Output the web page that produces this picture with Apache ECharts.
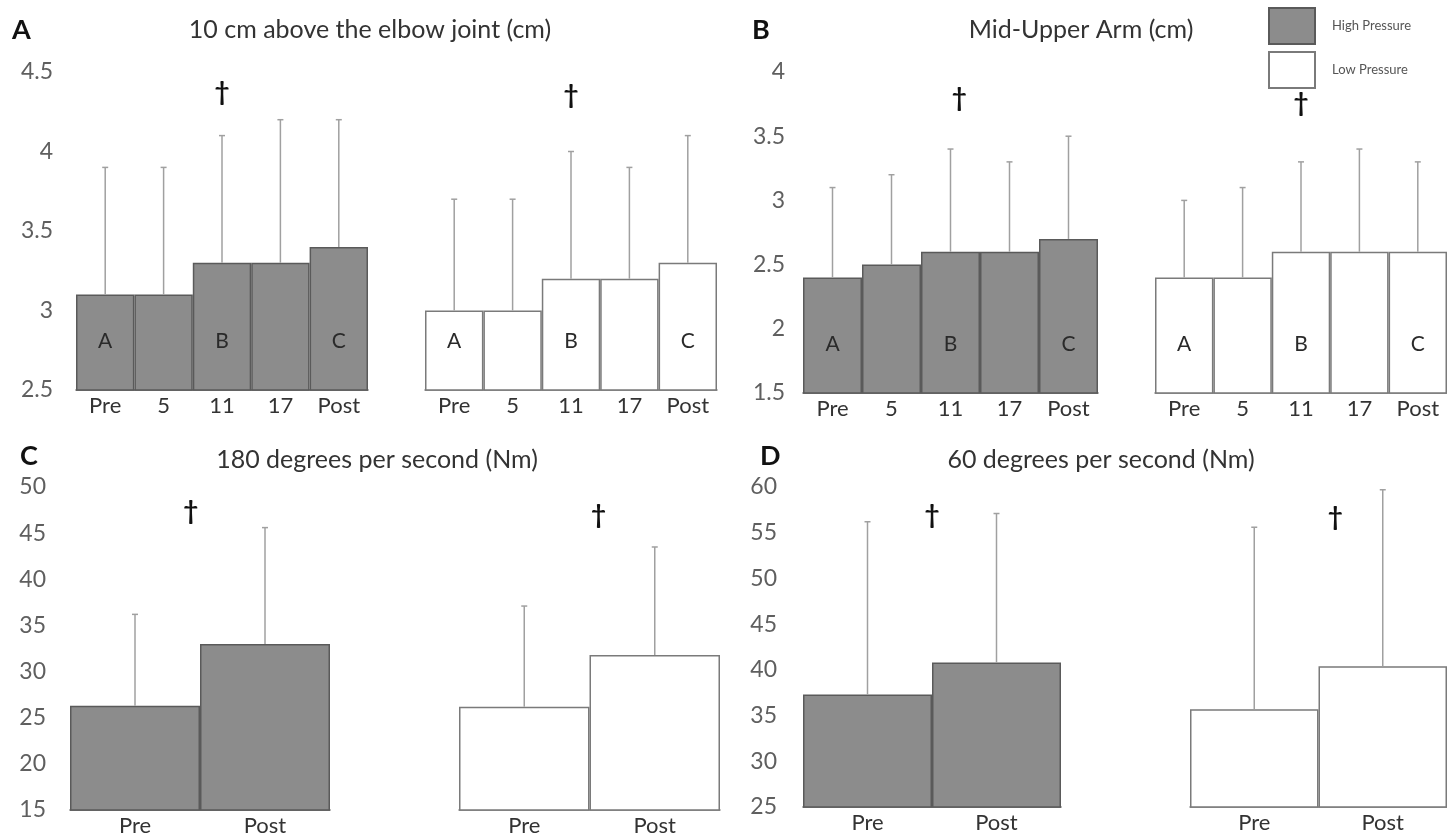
<!DOCTYPE html>
<html><head><meta charset="utf-8">
<script src="https://cdn.jsdelivr.net/npm/echarts@6/dist/echarts.min.js"></script>
<style>html,body{margin:0;padding:0;background:#fff}#c{width:1447px;height:839px}</style>
</head><body><div id="c"></div>
<script>
// ---------- data ----------
const timeCats = ['Pre', '5', '11', '17', 'Post'];
const prePostCats = ['Pre', 'Post'];
const letterLabels = ['A', '', 'B', '', 'C'];

const elbowHighMean = [3.1, 3.1, 3.3, 3.3, 3.4];
const elbowHighSD   = [0.8, 0.8, 0.8, 0.9, 0.8];
const elbowLowMean  = [3.0, 3.0, 3.2, 3.2, 3.3];
const elbowLowSD    = [0.7, 0.7, 0.8, 0.7, 0.8];

const armHighMean = [2.4, 2.5, 2.6, 2.6, 2.7];
const armHighSD   = [0.7, 0.7, 0.8, 0.7, 0.8];
const armLowMean  = [2.4, 2.4, 2.6, 2.6, 2.6];
const armLowSD    = [0.6, 0.7, 0.7, 0.8, 0.7];

const deg180HighMean = [26.3, 33.0];
const deg180HighSD   = [9.9, 12.6];
const deg180LowMean  = [26.2, 31.8];
const deg180LowSD    = [10.9, 11.7];

const deg60HighMean = [37.3, 40.8];
const deg60HighSD   = [18.9, 16.3];
const deg60LowMean  = [35.7, 40.4];
const deg60LowSD    = [19.9, 19.3];

// dagger annotations: [category index, value, fraction of band offset]
const daggerElbowHigh = [2, 4.37, 0];
const daggerElbowLow  = [2, 4.35, 0];
const daggerArmHigh   = [2, 3.79, 0.15];
const daggerArmLow    = [2, 3.75, 0];
const dagger180High   = [0, 47.3, 0.43];
const dagger180Low    = [0, 46.9, 0.57];
const dagger60High    = [0, 56.9, 0.5];
const dagger60Low     = [0, 56.6, 0.63];

const axisMin  = [2.5, 1.5, 15, 25];
const axisMax  = [4.5, 4.0, 50, 60];
const axisStep = [0.5, 0.5, 5, 5];

// ---------- layout ----------
const FONT = 'Lato, "Open Sans", sans-serif';
const GREY = '#8c8c8c', GREY_BORDER = '#5a5a5a', WHITE_BORDER = '#7a7a7a', ERR = '#a0a0a0';

const panels = [
  {grid:{left:76,  top:72,  width:292, height:318}, cats:timeCats, mean:elbowHighMean, sd:elbowHighSD, high:true,  scale:0, showY:true,  letters:true, dagger:daggerElbowHigh, yMargin:23},
  {grid:{left:425, top:72,  width:292, height:318}, cats:timeCats, mean:elbowLowMean,  sd:elbowLowSD,  high:false, scale:0, showY:false, letters:true, dagger:daggerElbowLow},
  {grid:{left:803, top:72,  width:295, height:321}, cats:timeCats, mean:armHighMean,   sd:armHighSD,   high:true,  scale:1, showY:true,  letters:true, dagger:daggerArmHigh, yMargin:18},
  {grid:{left:1155,top:72,  width:295, height:321}, cats:timeCats, mean:armLowMean,    sd:armLowSD,    high:false, scale:1, showY:false, letters:true, dagger:daggerArmLow},
  {grid:{left:70,  top:487, width:260, height:323}, cats:prePostCats, mean:deg180HighMean, sd:deg180HighSD, high:true,  scale:2, showY:true,  letters:false, dagger:dagger180High, yMargin:24},
  {grid:{left:459, top:487, width:261, height:323}, cats:prePostCats, mean:deg180LowMean,  sd:deg180LowSD,  high:false, scale:2, showY:false, letters:false, dagger:dagger180Low},
  {grid:{left:803, top:487, width:258, height:320}, cats:prePostCats, mean:deg60HighMean,  sd:deg60HighSD,  high:true,  scale:3, showY:true,  letters:false, dagger:dagger60High, yMargin:26},
  {grid:{left:1190,top:487, width:260, height:320}, cats:prePostCats, mean:deg60LowMean,   sd:deg60LowSD,   high:false, scale:3, showY:false, letters:false, dagger:dagger60Low}
];

const grids = [], xAxes = [], yAxes = [], series = [];
panels.forEach((p, i) => {
  grids.push(Object.assign({containLabel:false}, p.grid));
  xAxes.push({
    type:'category', gridIndex:i, data:p.cats,
    axisTick:{show:false},
    axisLine:{show:true, lineStyle:{color: p.high ? GREY_BORDER : WHITE_BORDER, width:1.5}},
    axisLabel:{fontFamily:FONT, fontSize:22, color:'#333', margin:5, interval:0}
  });
  yAxes.push({
    type:'value', gridIndex:i,
    min:axisMin[p.scale], max:axisMax[p.scale], interval:axisStep[p.scale],
    splitLine:{show:false}, axisTick:{show:false}, axisLine:{show:false},
    axisLabel:{show:p.showY, fontFamily:FONT, fontSize:23, color:'#5f5f5f', margin:p.yMargin || 20}
  });
  series.push({
    type:'bar', name: p.high ? 'High Pressure' : 'Low Pressure',
    xAxisIndex:i, yAxisIndex:i, data:p.mean,
    barCategoryGap:'0%',
    itemStyle:{color: p.high ? GREY : '#ffffff', borderColor: p.high ? GREY_BORDER : WHITE_BORDER, borderWidth:1.5},
    label: p.letters ? {
      show:true, position:'insideBottom', distance:39,
      formatter:(d) => letterLabels[d.dataIndex],
      fontFamily:FONT, fontSize:21, color:'#2a2a2a'
    } : {show:false},
    emphasis:{disabled:true}, animation:false, z:2
  });
  series.push({
    type:'custom', xAxisIndex:i, yAxisIndex:i,
    data:p.mean.map((m, k) => [k, m, m + p.sd[k]]),
    renderItem:(params, api) => {
      const b = api.coord([api.value(0), api.value(1)]);
      const t = api.coord([api.value(0), api.value(2)]);
      const st = {stroke:ERR, lineWidth:1.5};
      return {type:'group', children:[
        {type:'line', shape:{x1:b[0], y1:b[1], x2:t[0], y2:t[1]}, style:st},
        {type:'line', shape:{x1:t[0]-3, y1:t[1], x2:t[0]+3, y2:t[1]}, style:st}
      ]};
    },
    animation:false, silent:true, z:3
  });
  series.push({
    type:'custom', xAxisIndex:i, yAxisIndex:i,
    data:[p.dagger],
    renderItem:(params, api) => {
      const c = api.coord([api.value(0), api.value(1)]);
      const band = api.size([1, 0])[0];
      return {type:'text', x:c[0] + band * api.value(2), y:c[1],
        style:{text:'†', fontFamily:FONT, fontSize:26, fontWeight:'bold', fill:'#111', align:'center', verticalAlign:'middle'}};
    },
    animation:false, silent:true, z:4
  });
});

const titles = [
  {text:'A', x:12, y:30, bold:true},
  {text:'10 cm above the elbow joint (cm)', x:370, y:30, center:true},
  {text:'B', x:752, y:30, bold:true},
  {text:'Mid-Upper Arm (cm)', x:1081, y:30, center:true},
  {text:'C', x:20, y:456, bold:true},
  {text:'180 degrees per second (Nm)', x:377, y:460, center:true},
  {text:'D', x:760, y:456, bold:true},
  {text:'60 degrees per second (Nm)', x:1101, y:460, center:true}
];
const graphic = titles.map(t => ({
  type:'text', x:t.x, y:t.y,
  style:{text:t.text, fontFamily:FONT, fontSize: t.bold ? 27 : 25, fontWeight: t.bold ? 'bold' : 'normal',
    fill: t.bold ? '#111' : '#333', textAlign: t.center ? 'center' : 'left', textVerticalAlign:'middle'}
}));

const chart = echarts.init(document.getElementById('c'), null, {renderer:'canvas'});
chart.setOption({
  backgroundColor:'#ffffff',
  animation:false,
  grid:grids, xAxis:xAxes, yAxis:yAxes, series:series, graphic:graphic,
  legend:{
    data:[{name:'High Pressure', icon:'rect'}, {name:'Low Pressure', icon:'rect'}],
    orient:'vertical', left:1263, top:2, itemWidth:46, itemHeight:36, itemGap:6,
    selectedMode:false,
    textStyle:{fontFamily:FONT, fontSize:13, color:'#555', padding:[0,0,0,12]}
  }
});
</script></body></html>
